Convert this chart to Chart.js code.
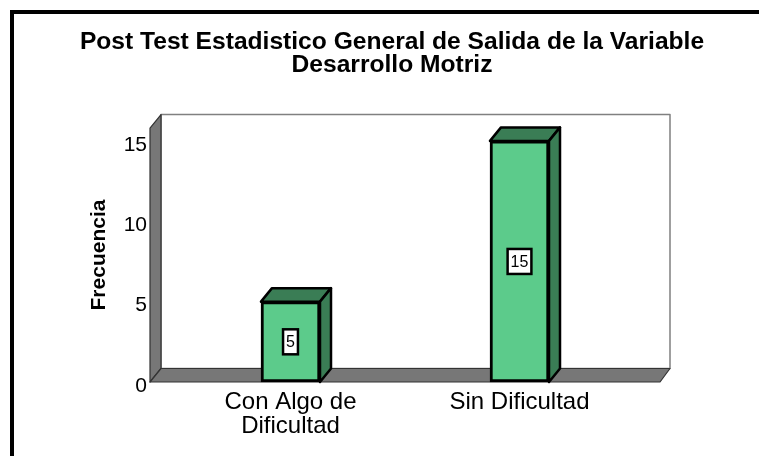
<!DOCTYPE html>
<html>
<head>
<meta charset="utf-8">
<title>Post Test Estadistico</title>
<script src="https://cdn.jsdelivr.net/npm/chart.js@4"></script>
<style>
    html, body { margin: 0; padding: 0; background: #fff; overflow: hidden; }
    #frame { position: absolute; left: 10px; top: 10px; right: 0; bottom: 0; border-left: 4px solid #000; border-top: 4px solid #000; }
    #chart { position: absolute; left: 0; top: 0; }
</style>
</head>
<body>
<div id="frame"></div>
<canvas id="chart" width="759" height="456"></canvas>
<script>
var titleLines = ['Post Test Estadistico General de Salida de la Variable', 'Desarrollo Motriz'];
var categories = [['Con Algo de', 'Dificultad'], ['Sin Dificultad']];
var frecuencia = [5, 15];
var yTicks = [0, 5, 10, 15];

var FONT = '"Liberation Sans", Arial, sans-serif';
var depthX = 11;
var depthY = 13.5;

function poly(ctx, pts, fill, stroke, lineWidth) {
    ctx.beginPath();
    pts.forEach(function (p, i) {
        if (i === 0) ctx.moveTo(p[0], p[1]);
        else ctx.lineTo(p[0], p[1]);
    });
    ctx.closePath();
    ctx.fillStyle = fill;
    ctx.fill();
    ctx.lineWidth = lineWidth;
    ctx.strokeStyle = stroke;
    ctx.lineJoin = 'round';
    ctx.stroke();
}

// back panel, walls and the depth faces of the bars go under the bars
var box3d = {
    id: 'box3d',
    beforeDatasetsDraw: function (chart) {
        var ctx = chart.ctx;
        var a = chart.chartArea;
        var backL = a.left + depthX;
        var backR = a.right + depthX - 1;
        var backT = a.top - depthY;
        var backB = a.bottom - depthY;

        ctx.save();
        poly(ctx, [[backL, backT], [backR, backT], [backR, backB], [backL, backB]], '#fff', '#808080', 1.5);
        poly(ctx, [[a.left, a.top], [backL, backT], [backL, backB], [a.left, a.bottom]], '#777777', '#333', 1.2);
        poly(ctx, [[a.left, a.bottom], [backL, backB], [backR, backB], [a.right, a.bottom]], '#777777', '#333', 1.2);

        chart.getDatasetMeta(0).data.forEach(function (bar) {
            var l = bar.x - bar.width / 2;
            var r = bar.x + bar.width / 2;
            poly(ctx, [[l, bar.y], [l + depthX, bar.y - depthY], [r + depthX, bar.y - depthY], [r, bar.y]], '#3a7d55', '#000', 2.5);
            poly(ctx, [[r, bar.y], [r + depthX, bar.y - depthY], [r + depthX, bar.base - depthY], [r, bar.base]], '#3a7d55', '#000', 2.5);
        });
        ctx.restore();
    },
    afterDatasetsDraw: function (chart) {
        var ctx = chart.ctx;
        ctx.save();
        ctx.font = '16px ' + FONT;
        ctx.textAlign = 'center';
        ctx.textBaseline = 'middle';
        chart.getDatasetMeta(0).data.forEach(function (bar, i) {
            var text = String(frecuencia[i]);
            var w = ctx.measureText(text).width + 6;
            var cy = (bar.y + bar.base) / 2;
            ctx.fillStyle = '#fff';
            ctx.strokeStyle = '#000';
            ctx.lineWidth = 2.5;
            ctx.fillRect(bar.x - w / 2, cy - 12.5, w, 25);
            ctx.strokeRect(bar.x - w / 2, cy - 12.5, w, 25);
            ctx.fillStyle = '#000';
            ctx.fillText(text, bar.x, cy + 1);
        });
        ctx.restore();
    },
};

new Chart(document.getElementById('chart'), {
    type: 'bar',
    data: {
        datasets: [
            {
                data: frecuencia.map(function (v, i) { return { x: i, y: v }; }),
                backgroundColor: '#5ccb8b',
                borderColor: '#000',
                borderWidth: 3,
                borderSkipped: false,
                barThickness: 59,
                clip: false,
            },
        ],
    },
    options: {
        responsive: false,
        animation: false,
        layout: { padding: { left: 25, right: 0, top: 0, bottom: 0 } },
        plugins: {
            legend: { display: false },
            tooltip: { enabled: false },
            title: {
                display: true,
                text: titleLines,
                color: '#000',
                font: { family: FONT, size: 24.6, weight: 'bold', lineHeight: 0.94 },
                padding: { top: 31, bottom: 50.8 },
            },
        },
        scales: {
            x: {
                type: 'linear',
                offset: false,
                min: -0.6135,
                max: 1.6135,
                grid: { display: false, drawTicks: false },
                border: { display: false },
                afterFit: function (scale) { scale.height = 74; },
                afterBuildTicks: function (scale) {
                    scale.ticks = categories.map(function (c, i) { return { value: i }; });
                },
                ticks: {
                    autoSkip: false,
                    maxRotation: 0,
                    minRotation: 0,
                    color: '#000',
                    padding: 8,
                    font: { family: FONT, size: 24, lineHeight: 1 },
                    callback: function (value) { return categories[value]; },
                },
            },
            y: {
                min: 0,
                max: 15.8,
                grid: { display: false, drawTicks: false },
                border: { display: false },
                afterFit: function (scale) { scale.width = 125; },
                afterBuildTicks: function (scale) {
                    scale.ticks = yTicks.map(function (v) { return { value: v }; });
                },
                title: {
                    display: true,
                    text: 'Frecuencia',
                    color: '#000',
                    font: { family: FONT, size: 21, weight: 'bold' },
                    padding: { top: 62, bottom: 0 },
                },
                ticks: {
                    color: '#000',
                    padding: 3,
                    // empty first line pushes the number a little below the tick
                    font: { family: FONT, size: 21, lineHeight: 0.38 },
                    callback: function (value) { return ['', String(value)]; },
                },
            },
            // empty axis, only keeps the plot away from the right side
            y2: {
                position: 'right',
                grid: { display: false, drawTicks: false },
                border: { display: false },
                ticks: { display: false },
                afterFit: function (scale) { scale.width = 99; },
            },
        },
    },
    plugins: [box3d],
});
</script>
</body>
</html>
